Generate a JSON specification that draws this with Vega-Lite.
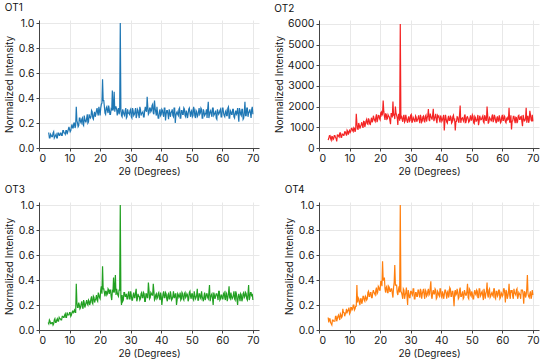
{
"$schema": "https://vega.github.io/schema/vega-lite/v6.json",
"padding": {"left": 4, "top": 3, "right": 5, "bottom": 0},
"background": "white",
"config": {
  "font": "Inter",
  "view": {"stroke": null},
  "axis": {"labelFontSize": 10.5, "titleFontSize": 10, "titleFontWeight": "normal", "labelColor": "#1a1a1a", "titleColor": "#1a1a1a", "domainColor": "#444", "tickColor": "#444", "gridColor": "#e8e8e8", "tickSize": 3, "labelPadding": 2, "titlePadding": 3},
  "title": {"fontSize": 10, "fontWeight": "normal", "anchor": "start", "frame": "bounds", "offset": 5, "color": "#111"},
  "line": {"strokeWidth": 1.2}
},
"datasets": {"xrd": [
{"x":3.0,"a":0.12,"b":380,"c":0.06,"d":0.10},
{"x":3.4,"a":0.08,"b":590,"c":0.08,"d":0.09},
{"x":3.8,"a":0.11,"b":460,"c":0.05,"d":0.06},
{"x":4.2,"a":0.09,"b":550,"c":0.06,"d":0.04},
{"x":4.6,"a":0.12,"b":410,"c":0.04,"d":0.08},
{"x":5.0,"a":0.08,"b":600,"c":0.08,"d":0.07},
{"x":5.4,"a":0.10,"b":510,"c":0.06,"d":0.11},
{"x":5.8,"a":0.08,"b":320,"c":0.08,"d":0.07},
{"x":6.2,"a":0.12,"b":630,"c":0.07,"d":0.11},
{"x":6.6,"a":0.10,"b":530,"c":0.10,"d":0.10},
{"x":7.0,"a":0.12,"b":730,"c":0.09,"d":0.13},
{"x":7.4,"a":0.10,"b":520,"c":0.08,"d":0.10},
{"x":7.8,"a":0.14,"b":670,"c":0.11,"d":0.17},
{"x":8.2,"a":0.12,"b":620,"c":0.10,"d":0.14},
{"x":8.6,"a":0.11,"b":780,"c":0.13,"d":0.13},
{"x":9.0,"a":0.14,"b":600,"c":0.10,"d":0.17},
{"x":9.4,"a":0.13,"b":800,"c":0.12,"d":0.15},
{"x":9.8,"a":0.17,"b":790,"c":0.12,"d":0.18},
{"x":10.2,"a":0.13,"b":750,"c":0.14,"d":0.14},
{"x":10.6,"a":0.17,"b":950,"c":0.12,"d":0.18},
{"x":11.0,"a":0.16,"b":850,"c":0.15,"d":0.17},
{"x":11.4,"a":0.20,"b":980,"c":0.15,"d":0.20},
{"x":11.8,"a":0.16,"b":780,"c":0.14,"d":0.17},
{"x":12.2,"a":0.33,"b":1650,"c":0.37,"d":0.19},
{"x":12.6,"a":0.20,"b":920,"c":0.18,"d":0.22},
{"x":13.0,"a":0.18,"b":1210,"c":0.22,"d":0.25},
{"x":13.4,"a":0.24,"b":940,"c":0.17,"d":0.20},
{"x":13.8,"a":0.20,"b":1130,"c":0.21,"d":0.25},
{"x":14.2,"a":0.24,"b":1100,"c":0.19,"d":0.23},
{"x":14.6,"a":0.18,"b":1290,"c":0.24,"d":0.27},
{"x":15.0,"a":0.23,"b":1020,"c":0.18,"d":0.23},
{"x":15.4,"a":0.21,"b":1310,"c":0.22,"d":0.26},
{"x":15.8,"a":0.27,"b":1180,"c":0.21,"d":0.25},
{"x":16.2,"a":0.21,"b":1430,"c":0.24,"d":0.31},
{"x":16.6,"a":0.25,"b":1160,"c":0.20,"d":0.27},
{"x":17.0,"a":0.25,"b":1340,"c":0.25,"d":0.30},
{"x":17.4,"a":0.29,"b":1240,"c":0.22,"d":0.26},
{"x":17.8,"a":0.23,"b":1560,"c":0.27,"d":0.32},
{"x":18.2,"a":0.29,"b":1340,"c":0.22,"d":0.29},
{"x":18.6,"a":0.27,"b":1480,"c":0.25,"d":0.32},
{"x":19.0,"a":0.32,"b":1250,"c":0.24,"d":0.29},
{"x":19.4,"a":0.26,"b":1580,"c":0.30,"d":0.35},
{"x":19.8,"a":0.30,"b":1420,"c":0.26,"d":0.32},
{"x":20.2,"a":0.32,"b":1690,"c":0.32,"d":0.39},
{"x":20.6,"a":0.36,"b":1580,"c":0.29,"d":0.35},
{"x":21.0,"a":0.38,"b":2300,"c":0.33,"d":0.40},
{"x":21.4,"a":0.33,"b":1540,"c":0.30,"d":0.42},
{"x":21.8,"a":0.27,"b":1650,"c":0.31,"d":0.30},
{"x":22.2,"a":0.33,"b":1390,"c":0.28,"d":0.35},
{"x":22.6,"a":0.28,"b":1610,"c":0.33,"d":0.30},
{"x":23.0,"a":0.31,"b":1500,"c":0.29,"d":0.34},
{"x":23.4,"a":0.27,"b":1150,"c":0.32,"d":0.31},
{"x":23.8,"a":0.30,"b":1660,"c":0.24,"d":0.33},
{"x":24.2,"a":0.30,"b":2250,"c":0.30,"d":0.26},
{"x":24.6,"a":0.45,"b":1620,"c":0.30,"d":0.38},
{"x":25.0,"a":0.33,"b":2000,"c":0.44,"d":0.36},
{"x":25.4,"a":0.31,"b":1580,"c":0.33,"d":0.36},
{"x":25.8,"a":0.30,"b":1120,"c":0.28,"d":0.28},
{"x":26.2,"a":0.27,"b":1640,"c":0.32,"d":0.35},
{"x":26.6,"a":1.0,"b":6000,"c":1.0,"d":1.0},
{"x":27.0,"a":0.26,"b":1510,"c":0.20,"d":0.30},
{"x":27.4,"a":0.31,"b":1270,"c":0.23,"d":0.25},
{"x":27.8,"a":0.27,"b":1600,"c":0.30,"d":0.32},
{"x":28.2,"a":0.30,"b":1310,"c":0.27,"d":0.28},
{"x":28.6,"a":0.24,"b":1440,"c":0.29,"d":0.34},
{"x":29.0,"a":0.31,"b":1220,"c":0.25,"d":0.20},
{"x":29.4,"a":0.28,"b":1530,"c":0.31,"d":0.29},
{"x":29.8,"a":0.30,"b":1330,"c":0.25,"d":0.26},
{"x":30.2,"a":0.25,"b":1620,"c":0.28,"d":0.31},
{"x":30.6,"a":0.32,"b":1290,"c":0.24,"d":0.28},
{"x":31.0,"a":0.26,"b":1420,"c":0.30,"d":0.33},
{"x":31.4,"a":0.29,"b":1250,"c":0.26,"d":0.25},
{"x":31.8,"a":0.24,"b":1490,"c":0.33,"d":0.30},
{"x":32.2,"a":0.31,"b":1360,"c":0.25,"d":0.27},
{"x":32.6,"a":0.27,"b":1580,"c":0.27,"d":0.32},
{"x":33.0,"a":0.33,"b":1200,"c":0.24,"d":0.26},
{"x":33.4,"a":0.26,"b":1470,"c":0.29,"d":0.31},
{"x":33.8,"a":0.28,"b":1310,"c":0.26,"d":0.29},
{"x":34.2,"a":0.25,"b":1550,"c":0.30,"d":0.33},
{"x":34.6,"a":0.30,"b":1270,"c":0.23,"d":0.25},
{"x":35.0,"a":0.30,"b":1590,"c":0.29,"d":0.31},
{"x":35.4,"a":0.41,"b":1460,"c":0.26,"d":0.28},
{"x":35.8,"a":0.27,"b":1880,"c":0.38,"d":0.33},
{"x":36.2,"a":0.32,"b":1300,"c":0.25,"d":0.29},
{"x":36.6,"a":0.29,"b":1530,"c":0.30,"d":0.39},
{"x":37.0,"a":0.34,"b":1370,"c":0.28,"d":0.25},
{"x":37.4,"a":0.28,"b":1900,"c":0.37,"d":0.32},
{"x":37.8,"a":0.38,"b":1420,"c":0.24,"d":0.29},
{"x":38.2,"a":0.29,"b":1650,"c":0.28,"d":0.32},
{"x":38.6,"a":0.33,"b":1200,"c":0.25,"d":0.26},
{"x":39.0,"a":0.24,"b":1510,"c":0.29,"d":0.30},
{"x":39.4,"a":0.29,"b":1370,"c":0.26,"d":0.27},
{"x":39.8,"a":0.26,"b":1570,"c":0.30,"d":0.33},
{"x":40.2,"a":0.31,"b":1290,"c":0.20,"d":0.26},
{"x":40.6,"a":0.27,"b":1480,"c":0.29,"d":0.29},
{"x":41.0,"a":0.32,"b":850,"c":0.26,"d":0.28},
{"x":41.4,"a":0.22,"b":1600,"c":0.30,"d":0.32},
{"x":41.8,"a":0.30,"b":1250,"c":0.25,"d":0.25},
{"x":42.2,"a":0.27,"b":1420,"c":0.28,"d":0.31},
{"x":42.6,"a":0.31,"b":1330,"c":0.25,"d":0.28},
{"x":43.0,"a":0.25,"b":1530,"c":0.31,"d":0.33},
{"x":43.4,"a":0.29,"b":1200,"c":0.24,"d":0.27},
{"x":43.8,"a":0.26,"b":1510,"c":0.27,"d":0.31},
{"x":44.2,"a":0.32,"b":1350,"c":0.26,"d":0.19},
{"x":44.6,"a":0.20,"b":850,"c":0.29,"d":0.32},
{"x":45.0,"a":0.28,"b":1290,"c":0.20,"d":0.29},
{"x":45.4,"a":0.27,"b":1490,"c":0.29,"d":0.30},
{"x":45.8,"a":0.31,"b":1220,"c":0.26,"d":0.26},
{"x":46.2,"a":0.24,"b":2050,"c":0.30,"d":0.34},
{"x":46.6,"a":0.30,"b":1380,"c":0.25,"d":0.27},
{"x":47.0,"a":0.27,"b":1460,"c":0.29,"d":0.31},
{"x":47.4,"a":0.32,"b":1270,"c":0.24,"d":0.26},
{"x":47.8,"a":0.26,"b":1620,"c":0.30,"d":0.30},
{"x":48.2,"a":0.30,"b":1310,"c":0.27,"d":0.28},
{"x":48.6,"a":0.24,"b":1510,"c":0.28,"d":0.37},
{"x":49.0,"a":0.31,"b":1250,"c":0.25,"d":0.25},
{"x":49.4,"a":0.28,"b":1440,"c":0.31,"d":0.32},
{"x":49.8,"a":0.29,"b":1340,"c":0.25,"d":0.27},
{"x":50.2,"a":0.25,"b":1600,"c":0.29,"d":0.29},
{"x":50.6,"a":0.33,"b":1220,"c":0.24,"d":0.25},
{"x":51.0,"a":0.26,"b":1530,"c":0.28,"d":0.32},
{"x":51.4,"a":0.30,"b":1290,"c":0.26,"d":0.28},
{"x":51.8,"a":0.25,"b":1420,"c":0.33,"d":0.31},
{"x":52.2,"a":0.29,"b":1100,"c":0.24,"d":0.26},
{"x":52.6,"a":0.27,"b":1560,"c":0.29,"d":0.33},
{"x":53.0,"a":0.32,"b":1360,"c":0.25,"d":0.28},
{"x":53.4,"a":0.24,"b":1490,"c":0.27,"d":0.31},
{"x":53.8,"a":0.31,"b":1270,"c":0.23,"d":0.24},
{"x":54.2,"a":0.26,"b":1580,"c":0.30,"d":0.30},
{"x":54.6,"a":0.28,"b":1330,"c":0.26,"d":0.29},
{"x":55.0,"a":0.24,"b":2000,"c":0.29,"d":0.38},
{"x":55.4,"a":0.37,"b":1180,"c":0.25,"d":0.26},
{"x":55.8,"a":0.27,"b":1470,"c":0.36,"d":0.33},
{"x":56.2,"a":0.30,"b":1380,"c":0.26,"d":0.27},
{"x":56.6,"a":0.25,"b":1530,"c":0.29,"d":0.30},
{"x":57.0,"a":0.32,"b":1250,"c":0.20,"d":0.27},
{"x":57.4,"a":0.27,"b":1600,"c":0.28,"d":0.33},
{"x":57.8,"a":0.30,"b":1310,"c":0.27,"d":0.25},
{"x":58.2,"a":0.23,"b":1440,"c":0.29,"d":0.31},
{"x":58.6,"a":0.29,"b":1290,"c":0.24,"d":0.28},
{"x":59.0,"a":0.28,"b":1580,"c":0.31,"d":0.32},
{"x":59.4,"a":0.31,"b":1220,"c":0.25,"d":0.26},
{"x":59.8,"a":0.25,"b":1490,"c":0.28,"d":0.29},
{"x":60.2,"a":0.32,"b":1330,"c":0.25,"d":0.28},
{"x":60.6,"a":0.26,"b":1560,"c":0.30,"d":0.33},
{"x":61.0,"a":0.29,"b":1270,"c":0.24,"d":0.22},
{"x":61.4,"a":0.26,"b":1420,"c":0.29,"d":0.31},
{"x":61.8,"a":0.32,"b":1360,"c":0.26,"d":0.27},
{"x":62.2,"a":0.24,"b":1950,"c":0.35,"d":0.37},
{"x":62.6,"a":0.30,"b":1250,"c":0.25,"d":0.25},
{"x":63.0,"a":0.27,"b":900,"c":0.27,"d":0.30},
{"x":63.4,"a":0.31,"b":1310,"c":0.26,"d":0.27},
{"x":63.8,"a":0.25,"b":1530,"c":0.31,"d":0.33},
{"x":64.2,"a":0.28,"b":1200,"c":0.24,"d":0.29},
{"x":64.6,"a":0.27,"b":1470,"c":0.29,"d":0.32},
{"x":65.0,"a":0.32,"b":1290,"c":0.20,"d":0.25},
{"x":65.4,"a":0.21,"b":1580,"c":0.29,"d":0.30},
{"x":65.8,"a":0.30,"b":1380,"c":0.23,"d":0.28},
{"x":66.2,"a":0.26,"b":1530,"c":0.28,"d":0.32},
{"x":66.6,"a":0.31,"b":1050,"c":0.25,"d":0.32},
{"x":67.0,"a":0.24,"b":1440,"c":0.30,"d":0.21},
{"x":67.4,"a":0.37,"b":1330,"c":0.27,"d":0.30},
{"x":67.8,"a":0.26,"b":1950,"c":0.29,"d":0.28},
{"x":68.2,"a":0.32,"b":1530,"c":0.24,"d":0.44},
{"x":68.6,"a":0.28,"b":1220,"c":0.36,"d":0.27},
{"x":69.0,"a":0.31,"b":1800,"c":0.26,"d":0.29},
{"x":69.4,"a":0.24,"b":1360,"c":0.30,"d":0.25},
{"x":69.8,"a":0.33,"b":1600,"c":0.29,"d":0.32},
{"x":70.0,"a":0.27,"b":1290,"c":0.24,"d":0.28},
{"x":3.2,"a":0.12,"b":470,"c":0.05,"d":0.06},
{"x":3.6,"a":0.08,"b":600,"c":0.07,"d":0.09},
{"x":4.0,"a":0.10,"b":380,"c":0.05,"d":0.05},
{"x":4.4,"a":0.09,"b":540,"c":0.06,"d":0.08},
{"x":4.8,"a":0.13,"b":450,"c":0.05,"d":0.07},
{"x":5.2,"a":0.09,"b":600,"c":0.09,"d":0.07},
{"x":5.6,"a":0.11,"b":460,"c":0.06,"d":0.11},
{"x":6.0,"a":0.08,"b":625,"c":0.09,"d":0.09},
{"x":6.4,"a":0.12,"b":570,"c":0.07,"d":0.12},
{"x":6.8,"a":0.10,"b":725,"c":0.09,"d":0.08},
{"x":7.2,"a":0.12,"b":525,"c":0.08,"d":0.12},
{"x":7.6,"a":0.10,"b":680,"c":0.11,"d":0.11},
{"x":8.0,"a":0.14,"b":615,"c":0.10,"d":0.14},
{"x":8.4,"a":0.12,"b":780,"c":0.12,"d":0.11},
{"x":8.8,"a":0.14,"b":690,"c":0.10,"d":0.14},
{"x":9.2,"a":0.11,"b":855,"c":0.14,"d":0.14},
{"x":9.6,"a":0.15,"b":645,"c":0.12,"d":0.16},
{"x":10.0,"a":0.15,"b":850,"c":0.14,"d":0.13},
{"x":10.4,"a":0.14,"b":805,"c":0.11,"d":0.18},
{"x":10.8,"a":0.19,"b":950,"c":0.14,"d":0.16},
{"x":11.2,"a":0.16,"b":800,"c":0.14,"d":0.20},
{"x":11.6,"a":0.20,"b":940,"c":0.16,"d":0.16},
{"x":12.0,"a":0.18,"b":900,"c":0.14,"d":0.19},
{"x":12.4,"a":0.22,"b":1200,"c":0.22,"d":0.36},
{"x":12.8,"a":0.17,"b":910,"c":0.18,"d":0.26},
{"x":13.2,"a":0.24,"b":1095,"c":0.20,"d":0.22},
{"x":13.6,"a":0.21,"b":1040,"c":0.18,"d":0.25},
{"x":14.0,"a":0.23,"b":1245,"c":0.23,"d":0.21},
{"x":14.4,"a":0.19,"b":970,"c":0.17,"d":0.27},
{"x":14.8,"a":0.26,"b":1275,"c":0.22,"d":0.24},
{"x":15.2,"a":0.21,"b":1160,"c":0.20,"d":0.27},
{"x":15.6,"a":0.24,"b":1385,"c":0.24,"d":0.24},
{"x":16.0,"a":0.20,"b":1150,"c":0.20,"d":0.30},
{"x":16.4,"a":0.27,"b":1355,"c":0.23,"d":0.27},
{"x":16.8,"a":0.24,"b":1140,"c":0.22,"d":0.30},
{"x":17.2,"a":0.30,"b":1465,"c":0.27,"d":0.26},
{"x":17.6,"a":0.24,"b":1330,"c":0.21,"d":0.30},
{"x":18.0,"a":0.27,"b":1435,"c":0.26,"d":0.30},
{"x":18.4,"a":0.25,"b":1280,"c":0.24,"d":0.28},
{"x":18.8,"a":0.30,"b":1625,"c":0.28,"d":0.34},
{"x":19.2,"a":0.28,"b":1370,"c":0.23,"d":0.30},
{"x":19.6,"a":0.33,"b":1575,"c":0.28,"d":0.34},
{"x":20.0,"a":0.26,"b":1360,"c":0.25,"d":0.32},
{"x":20.4,"a":0.35,"b":1740,"c":0.35,"d":0.39},
{"x":20.8,"a":0.55,"b":1640,"c":0.51,"d":0.55},
{"x":21.2,"a":0.38,"b":1780,"c":0.33,"d":0.40},
{"x":21.6,"a":0.28,"b":1360,"c":0.27,"d":0.33},
{"x":22.0,"a":0.32,"b":1640,"c":0.31,"d":0.34},
{"x":22.4,"a":0.30,"b":1420,"c":0.29,"d":0.30},
{"x":22.8,"a":0.34,"b":1540,"c":0.32,"d":0.35},
{"x":23.2,"a":0.27,"b":1340,"c":0.32,"d":0.31},
{"x":23.6,"a":0.31,"b":1660,"c":0.27,"d":0.33},
{"x":24.0,"a":0.46,"b":1480,"c":0.31,"d":0.29},
{"x":24.4,"a":0.32,"b":1600,"c":0.42,"d":0.34},
{"x":24.8,"a":0.29,"b":1400,"c":0.33,"d":0.52},
{"x":25.2,"a":0.33,"b":1680,"c":0.28,"d":0.36},
{"x":25.6,"a":0.26,"b":1460,"c":0.30,"d":0.30},
{"x":26.0,"a":0.32,"b":1620,"c":0.27,"d":0.32},
{"x":26.4,"a":0.29,"b":1320,"c":0.32,"d":0.30},
{"x":26.8,"a":0.31,"b":1470,"c":0.26,"d":0.31},
{"x":27.2,"a":0.25,"b":1380,"c":0.28,"d":0.28},
{"x":27.6,"a":0.29,"b":1530,"c":0.24,"d":0.33},
{"x":28.0,"a":0.26,"b":1250,"c":0.30,"d":0.25},
{"x":28.4,"a":0.32,"b":1600,"c":0.27,"d":0.30},
{"x":28.8,"a":0.25,"b":1310,"c":0.25,"d":0.27},
{"x":29.2,"a":0.28,"b":1440,"c":0.29,"d":0.32},
{"x":29.6,"a":0.27,"b":1290,"c":0.25,"d":0.26},
{"x":30.0,"a":0.31,"b":1580,"c":0.31,"d":0.31},
{"x":30.4,"a":0.24,"b":1220,"c":0.24,"d":0.29},
{"x":30.8,"a":0.30,"b":1490,"c":0.28,"d":0.33},
{"x":31.2,"a":0.27,"b":1330,"c":0.26,"d":0.25},
{"x":31.6,"a":0.32,"b":1550,"c":0.30,"d":0.30},
{"x":32.0,"a":0.26,"b":1270,"c":0.23,"d":0.27},
{"x":32.4,"a":0.30,"b":1420,"c":0.29,"d":0.32},
{"x":32.8,"a":0.24,"b":1360,"c":0.27,"d":0.28},
{"x":33.2,"a":0.31,"b":1600,"c":0.25,"d":0.33},
{"x":33.6,"a":0.28,"b":1250,"c":0.30,"d":0.25},
{"x":34.0,"a":0.29,"b":1510,"c":0.26,"d":0.31},
{"x":34.4,"a":0.25,"b":1310,"c":0.29,"d":0.28},
{"x":34.8,"a":0.33,"b":1530,"c":0.23,"d":0.32},
{"x":35.2,"a":0.29,"b":1280,"c":0.29,"d":0.27},
{"x":35.6,"a":0.33,"b":1550,"c":0.26,"d":0.31},
{"x":36.0,"a":0.28,"b":1370,"c":0.32,"d":0.28},
{"x":36.4,"a":0.32,"b":1660,"c":0.26,"d":0.34},
{"x":36.8,"a":0.30,"b":1460,"c":0.29,"d":0.27},
{"x":37.2,"a":0.35,"b":1610,"c":0.28,"d":0.30},
{"x":37.6,"a":0.27,"b":1300,"c":0.31,"d":0.29},
{"x":38.0,"a":0.32,"b":1520,"c":0.25,"d":0.33},
{"x":38.4,"a":0.26,"b":1350,"c":0.29,"d":0.25},
{"x":38.8,"a":0.28,"b":1570,"c":0.26,"d":0.31},
{"x":39.2,"a":0.24,"b":1550,"c":0.30,"d":0.28},
{"x":39.6,"a":0.31,"b":1240,"c":0.24,"d":0.33},
{"x":40.0,"a":0.27,"b":1470,"c":0.27,"d":0.27},
{"x":40.4,"a":0.30,"b":1360,"c":0.25,"d":0.31},
{"x":40.8,"a":0.25,"b":1600,"c":0.31,"d":0.25},
{"x":41.2,"a":0.32,"b":1290,"c":0.26,"d":0.32},
{"x":41.6,"a":0.27,"b":1420,"c":0.29,"d":0.29},
{"x":42.0,"a":0.30,"b":1200,"c":0.23,"d":0.30},
{"x":42.4,"a":0.23,"b":1550,"c":0.29,"d":0.26},
{"x":42.8,"a":0.29,"b":1330,"c":0.25,"d":0.34},
{"x":43.2,"a":0.28,"b":1490,"c":0.28,"d":0.27},
{"x":43.6,"a":0.31,"b":1250,"c":0.25,"d":0.31},
{"x":44.0,"a":0.25,"b":1580,"c":0.31,"d":0.26},
{"x":44.4,"a":0.32,"b":1380,"c":0.26,"d":0.30},
{"x":44.8,"a":0.26,"b":1270,"c":0.29,"d":0.28},
{"x":45.2,"a":0.29,"b":1510,"c":0.24,"d":0.33},
{"x":45.6,"a":0.26,"b":1310,"c":0.28,"d":0.25},
{"x":46.0,"a":0.32,"b":1620,"c":0.27,"d":0.32},
{"x":46.4,"a":0.24,"b":1220,"c":0.24,"d":0.27},
{"x":46.8,"a":0.30,"b":1440,"c":0.30,"d":0.29},
{"x":47.2,"a":0.27,"b":1330,"c":0.25,"d":0.25},
{"x":47.6,"a":0.31,"b":1550,"c":0.29,"d":0.32},
{"x":48.0,"a":0.25,"b":1200,"c":0.26,"d":0.28},
{"x":48.4,"a":0.28,"b":1490,"c":0.29,"d":0.31},
{"x":48.8,"a":0.27,"b":1420,"c":0.23,"d":0.26},
{"x":49.2,"a":0.32,"b":1290,"c":0.30,"d":0.33},
{"x":49.6,"a":0.25,"b":1580,"c":0.27,"d":0.28},
{"x":50.0,"a":0.30,"b":1360,"c":0.29,"d":0.31},
{"x":50.4,"a":0.26,"b":1530,"c":0.25,"d":0.25},
{"x":50.8,"a":0.31,"b":1180,"c":0.31,"d":0.30},
{"x":51.2,"a":0.24,"b":1470,"c":0.25,"d":0.29},
{"x":51.6,"a":0.29,"b":1310,"c":0.28,"d":0.32},
{"x":52.0,"a":0.26,"b":1600,"c":0.24,"d":0.26},
{"x":52.4,"a":0.32,"b":1270,"c":0.29,"d":0.33},
{"x":52.8,"a":0.28,"b":1440,"c":0.26,"d":0.27},
{"x":53.2,"a":0.31,"b":1380,"c":0.31,"d":0.30},
{"x":53.6,"a":0.24,"b":1550,"c":0.25,"d":0.27},
{"x":54.0,"a":0.29,"b":1220,"c":0.27,"d":0.33},
{"x":54.4,"a":0.27,"b":1510,"c":0.24,"d":0.25},
{"x":54.8,"a":0.31,"b":1330,"c":0.29,"d":0.31},
{"x":55.2,"a":0.31,"b":1580,"c":0.26,"d":0.28},
{"x":55.6,"a":0.24,"b":1250,"c":0.30,"d":0.32},
{"x":56.0,"a":0.29,"b":1420,"c":0.23,"d":0.26},
{"x":56.4,"a":0.27,"b":1290,"c":0.28,"d":0.29},
{"x":56.8,"a":0.32,"b":1620,"c":0.25,"d":0.28},
{"x":57.2,"a":0.26,"b":1360,"c":0.30,"d":0.33},
{"x":57.6,"a":0.28,"b":1490,"c":0.25,"d":0.26},
{"x":58.0,"a":0.24,"b":1200,"c":0.29,"d":0.31},
{"x":58.4,"a":0.31,"b":1530,"c":0.27,"d":0.27},
{"x":58.8,"a":0.27,"b":1310,"c":0.31,"d":0.32},
{"x":59.2,"a":0.30,"b":1440,"c":0.24,"d":0.25},
{"x":59.6,"a":0.25,"b":1270,"c":0.28,"d":0.30},
{"x":60.0,"a":0.32,"b":1600,"c":0.25,"d":0.27},
{"x":60.4,"a":0.28,"b":1330,"c":0.29,"d":0.33},
{"x":60.8,"a":0.25,"b":1510,"c":0.26,"d":0.29},
{"x":61.2,"a":0.30,"b":1220,"c":0.30,"d":0.32},
{"x":61.6,"a":0.26,"b":1470,"c":0.23,"d":0.25},
{"x":62.0,"a":0.33,"b":1400,"c":0.29,"d":0.30},
{"x":62.4,"a":0.24,"b":1250,"c":0.26,"d":0.28},
{"x":62.8,"a":0.29,"b":1580,"c":0.30,"d":0.32},
{"x":63.2,"a":0.27,"b":1290,"c":0.25,"d":0.32},
{"x":63.6,"a":0.31,"b":1530,"c":0.28,"d":0.25},
{"x":64.0,"a":0.24,"b":1360,"c":0.25,"d":0.30},
{"x":64.4,"a":0.30,"b":1490,"c":0.31,"d":0.28},
{"x":64.8,"a":0.28,"b":1200,"c":0.24,"d":0.33},
{"x":65.2,"a":0.26,"b":1550,"c":0.27,"d":0.27},
{"x":65.6,"a":0.32,"b":1380,"c":0.26,"d":0.29},
{"x":66.0,"a":0.27,"b":1510,"c":0.29,"d":0.25},
{"x":66.4,"a":0.31,"b":1270,"c":0.23,"d":0.32},
{"x":66.8,"a":0.23,"b":1600,"c":0.29,"d":0.28},
{"x":67.2,"a":0.29,"b":1310,"c":0.26,"d":0.31},
{"x":67.6,"a":0.26,"b":1440,"c":0.30,"d":0.26},
{"x":68.0,"a":0.32,"b":1220,"c":0.25,"d":0.33},
{"x":68.4,"a":0.25,"b":1530,"c":0.29,"d":0.29},
{"x":68.8,"a":0.29,"b":1330,"c":0.24,"d":0.26},
{"x":69.2,"a":0.28,"b":1620,"c":0.30,"d":0.31},
{"x":69.6,"a":0.31,"b":1290,"c":0.27,"d":0.27}
]},
"columns": 2,
"spacing": {"row": 8, "column": 14},
"concat": [
  {
    "title": "OT1",
    "width": 220, "height": 128,
    "data": {"name": "xrd"},
    "mark": {"type": "line", "color": "#1f77b4", "strokeWidth": 1.2},
    "encoding": {
      "x": {"field": "x", "type": "quantitative", "scale": {"domain": [0, 72], "nice": false}, "axis": {"title": "2θ (Degrees)", "values": [0,10,20,30,40,50,60,70]}},
      "y": {"field": "a", "type": "quantitative", "scale": {"domain": [0, 1.025], "nice": false}, "axis": {"title": "Normalized Intensity", "values": [0,0.2,0.4,0.6,0.8,1.0], "format": ".1f"}}
    }
  },
  {
    "title": "OT2",
    "width": 220, "height": 128,
    "data": {"name": "xrd"},
    "mark": {"type": "line", "color": "#f42424", "strokeWidth": 1.2},
    "encoding": {
      "x": {"field": "x", "type": "quantitative", "scale": {"domain": [0, 72], "nice": false}, "axis": {"title": "2θ (Degrees)", "values": [0,10,20,30,40,50,60,70]}},
      "y": {"field": "b", "type": "quantitative", "scale": {"domain": [0, 6190], "nice": false}, "axis": {"title": "Normalized Intensity", "values": [0,1000,2000,3000,4000,5000,6000], "format": "d"}}
    }
  },
  {
    "title": "OT3",
    "width": 220, "height": 128,
    "data": {"name": "xrd"},
    "mark": {"type": "line", "color": "#22a022", "strokeWidth": 1.2},
    "encoding": {
      "x": {"field": "x", "type": "quantitative", "scale": {"domain": [0, 72], "nice": false}, "axis": {"title": "2θ (Degrees)", "values": [0,10,20,30,40,50,60,70]}},
      "y": {"field": "c", "type": "quantitative", "scale": {"domain": [0, 1.025], "nice": false}, "axis": {"title": "Normalized Intensity", "values": [0,0.2,0.4,0.6,0.8,1.0], "format": ".1f"}}
    }
  },
  {
    "title": "OT4",
    "width": 220, "height": 128,
    "data": {"name": "xrd"},
    "mark": {"type": "line", "color": "#ff7f0e", "strokeWidth": 1.2},
    "encoding": {
      "x": {"field": "x", "type": "quantitative", "scale": {"domain": [0, 72], "nice": false}, "axis": {"title": "2θ (Degrees)", "values": [0,10,20,30,40,50,60,70]}},
      "y": {"field": "d", "type": "quantitative", "scale": {"domain": [0, 1.025], "nice": false}, "axis": {"title": "Normalized Intensity", "values": [0,0.2,0.4,0.6,0.8,1.0], "format": ".1f"}}
    }
  }
]
}
